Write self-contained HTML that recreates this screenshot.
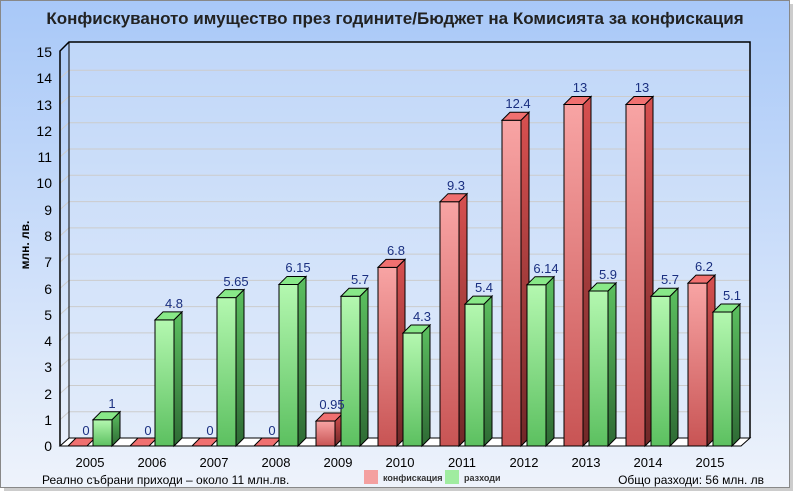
<!DOCTYPE html>
<html><head><meta charset="utf-8"><style>
body{margin:0;background:#fff;width:797px;height:494px;overflow:hidden}
svg{display:block;font-family:"Liberation Sans",sans-serif}
</style></head><body>
<svg id="s" width="797" height="494" viewBox="0 0 797 494">
<defs>
<linearGradient id="bg" x1="0" y1="0" x2="0" y2="1"><stop offset="0" stop-color="#a8c8f8"/><stop offset="1" stop-color="#eef3fb"/></linearGradient>
<linearGradient id="rf" x1="0" y1="0" x2="0" y2="1"><stop offset="0" stop-color="#f8a4a4"/><stop offset="1" stop-color="#c85454"/></linearGradient>
<linearGradient id="gf" x1="0" y1="0" x2="0" y2="1"><stop offset="0" stop-color="#b4f8b0"/><stop offset="1" stop-color="#5cc060"/></linearGradient>
<linearGradient id="rs" x1="0" y1="0" x2="0" y2="1"><stop offset="0" stop-color="#d85050"/><stop offset="1" stop-color="#702828"/></linearGradient>
<linearGradient id="gs" x1="0" y1="0" x2="0" y2="1"><stop offset="0" stop-color="#5cc060"/><stop offset="1" stop-color="#2e6a34"/></linearGradient>
</defs>
<rect x="4" y="4" width="789" height="487" fill="#999" opacity="0.5"/>
<rect x="0.5" y="0.5" width="789" height="487" fill="url(#bg)" stroke="#888"/>
<rect x="69" y="42" width="681" height="396" fill="#dce8fa" opacity="0.4"/>
<g id="grid" stroke="#cccccc" stroke-width="1"></g>
<polygon points="60,446 69,438 750,438 741,446" fill="#fff" stroke="#000"/>
<g id="bars" stroke="#000" stroke-width="1"></g>
<polyline points="60,446 60,51 69,42 750,42 750,438" fill="none" stroke="#000" stroke-width="1.5"/>
<line x1="69" y1="42" x2="69" y2="438" stroke="#000"/>
<text x="395" y="24" text-anchor="middle" font-size="17" font-weight="bold" fill="#222">Конфискуваното имущество през годините/Бюджет на Комисията за конфискация</text>
<text transform="translate(29,245) rotate(-90)" text-anchor="middle" font-size="12" font-weight="bold" fill="#000">млн. лв.</text>
<g font-size="14" fill="#000" text-anchor="end">
<text x="52" y="451">0</text><text x="52" y="425">1</text><text x="52" y="399">2</text><text x="52" y="372">3</text><text x="52" y="346">4</text><text x="52" y="320">5</text><text x="52" y="294">6</text><text x="52" y="267">7</text><text x="52" y="241">8</text><text x="52" y="215">9</text><text x="52" y="188">10</text><text x="52" y="162">11</text><text x="52" y="136">12</text><text x="52" y="110">13</text><text x="52" y="83">14</text><text x="52" y="57">15</text>
</g>
<g font-size="13" fill="#000" text-anchor="middle">
<text x="90" y="467">2005</text><text x="152" y="467">2006</text><text x="214" y="467">2007</text><text x="276" y="467">2008</text><text x="338" y="467">2009</text><text x="400" y="467">2010</text><text x="462" y="467">2011</text><text x="524" y="467">2012</text><text x="586" y="467">2013</text><text x="648" y="467">2014</text><text x="710" y="467">2015</text>
</g>
<g font-size="13" fill="#1a2f80" text-anchor="middle">
<text x="86" y="435">0</text><text x="148" y="435">0</text><text x="210" y="435">0</text><text x="272" y="435">0</text>
<text x="332" y="409">0.95</text><text x="396" y="255">6.8</text><text x="456" y="190">9.3</text><text x="518" y="108">12.4</text><text x="580" y="92">13</text><text x="642" y="92">13</text><text x="704" y="271">6.2</text>
<text x="112" y="408">1</text><text x="174" y="308">4.8</text><text x="236" y="286">5.65</text><text x="298" y="272">6.15</text><text x="360" y="284">5.7</text><text x="422" y="321">4.3</text><text x="484" y="292">5.4</text><text x="546" y="273">6.14</text><text x="608" y="279">5.9</text><text x="670" y="284">5.7</text><text x="732" y="300">5.1</text>
</g>
<rect x="364" y="470" width="14" height="14" fill="#f4a0a0"/>
<text x="383" y="481" font-size="9" font-weight="bold" fill="#333">конфискация</text>
<rect x="445" y="470" width="14" height="14" fill="#a0eca0"/>
<text x="464" y="481" font-size="9" font-weight="bold" fill="#333">разходи</text>
<text x="42" y="484" font-size="12" fill="#000">Реално събрани приходи – около 11 млн.лв.</text>
<text x="764" y="484" font-size="12" fill="#000" text-anchor="end">Общо разходи: 56 млн. лв</text>
</svg>
<script>
var NS="http://www.w3.org/2000/svg",k=26.27,d=8,w=19;
var g=document.getElementById("grid");
for(var v=1;v<=14;v++){var yb=438-v*k,yf=446-v*k;
var l=document.createElementNS(NS,"polyline");l.setAttribute("points","60,"+yf+" 69,"+yb+" 750,"+yb);l.setAttribute("fill","none");g.appendChild(l);}
var R=[0,0,0,0,0.95,6.8,9.3,12.4,13,13,6.2],G=[1,4.8,5.65,6.15,5.7,4.3,5.4,6.14,5.9,5.7,5.1];
var b=document.getElementById("bars");
function poly(p,f){var e=document.createElementNS(NS,"polygon");e.setAttribute("points",p);e.setAttribute("fill",f);b.appendChild(e);}
function bar(x,v,c){var yt=446-v*k;
if(v>0){var r=document.createElementNS(NS,"rect");r.setAttribute("x",x);r.setAttribute("y",yt);r.setAttribute("width",w);r.setAttribute("height",446-yt);r.setAttribute("fill","url(#"+c+"f)");b.appendChild(r);
poly((x+w)+","+yt+" "+(x+w+d)+","+(yt-d)+" "+(x+w+d)+","+(446-d)+" "+(x+w)+",446","url(#"+c+"s)");}
poly(x+","+yt+" "+(x+d)+","+(yt-d)+" "+(x+w+d)+","+(yt-d)+" "+(x+w)+","+yt,c=="r"?"#f07070":"#88e888");}
for(var i=0;i<11;i++){var cx=90+62*i;bar(cx-22,R[i],"r");bar(cx+3,G[i],"g");}
</script>
</body></html>
